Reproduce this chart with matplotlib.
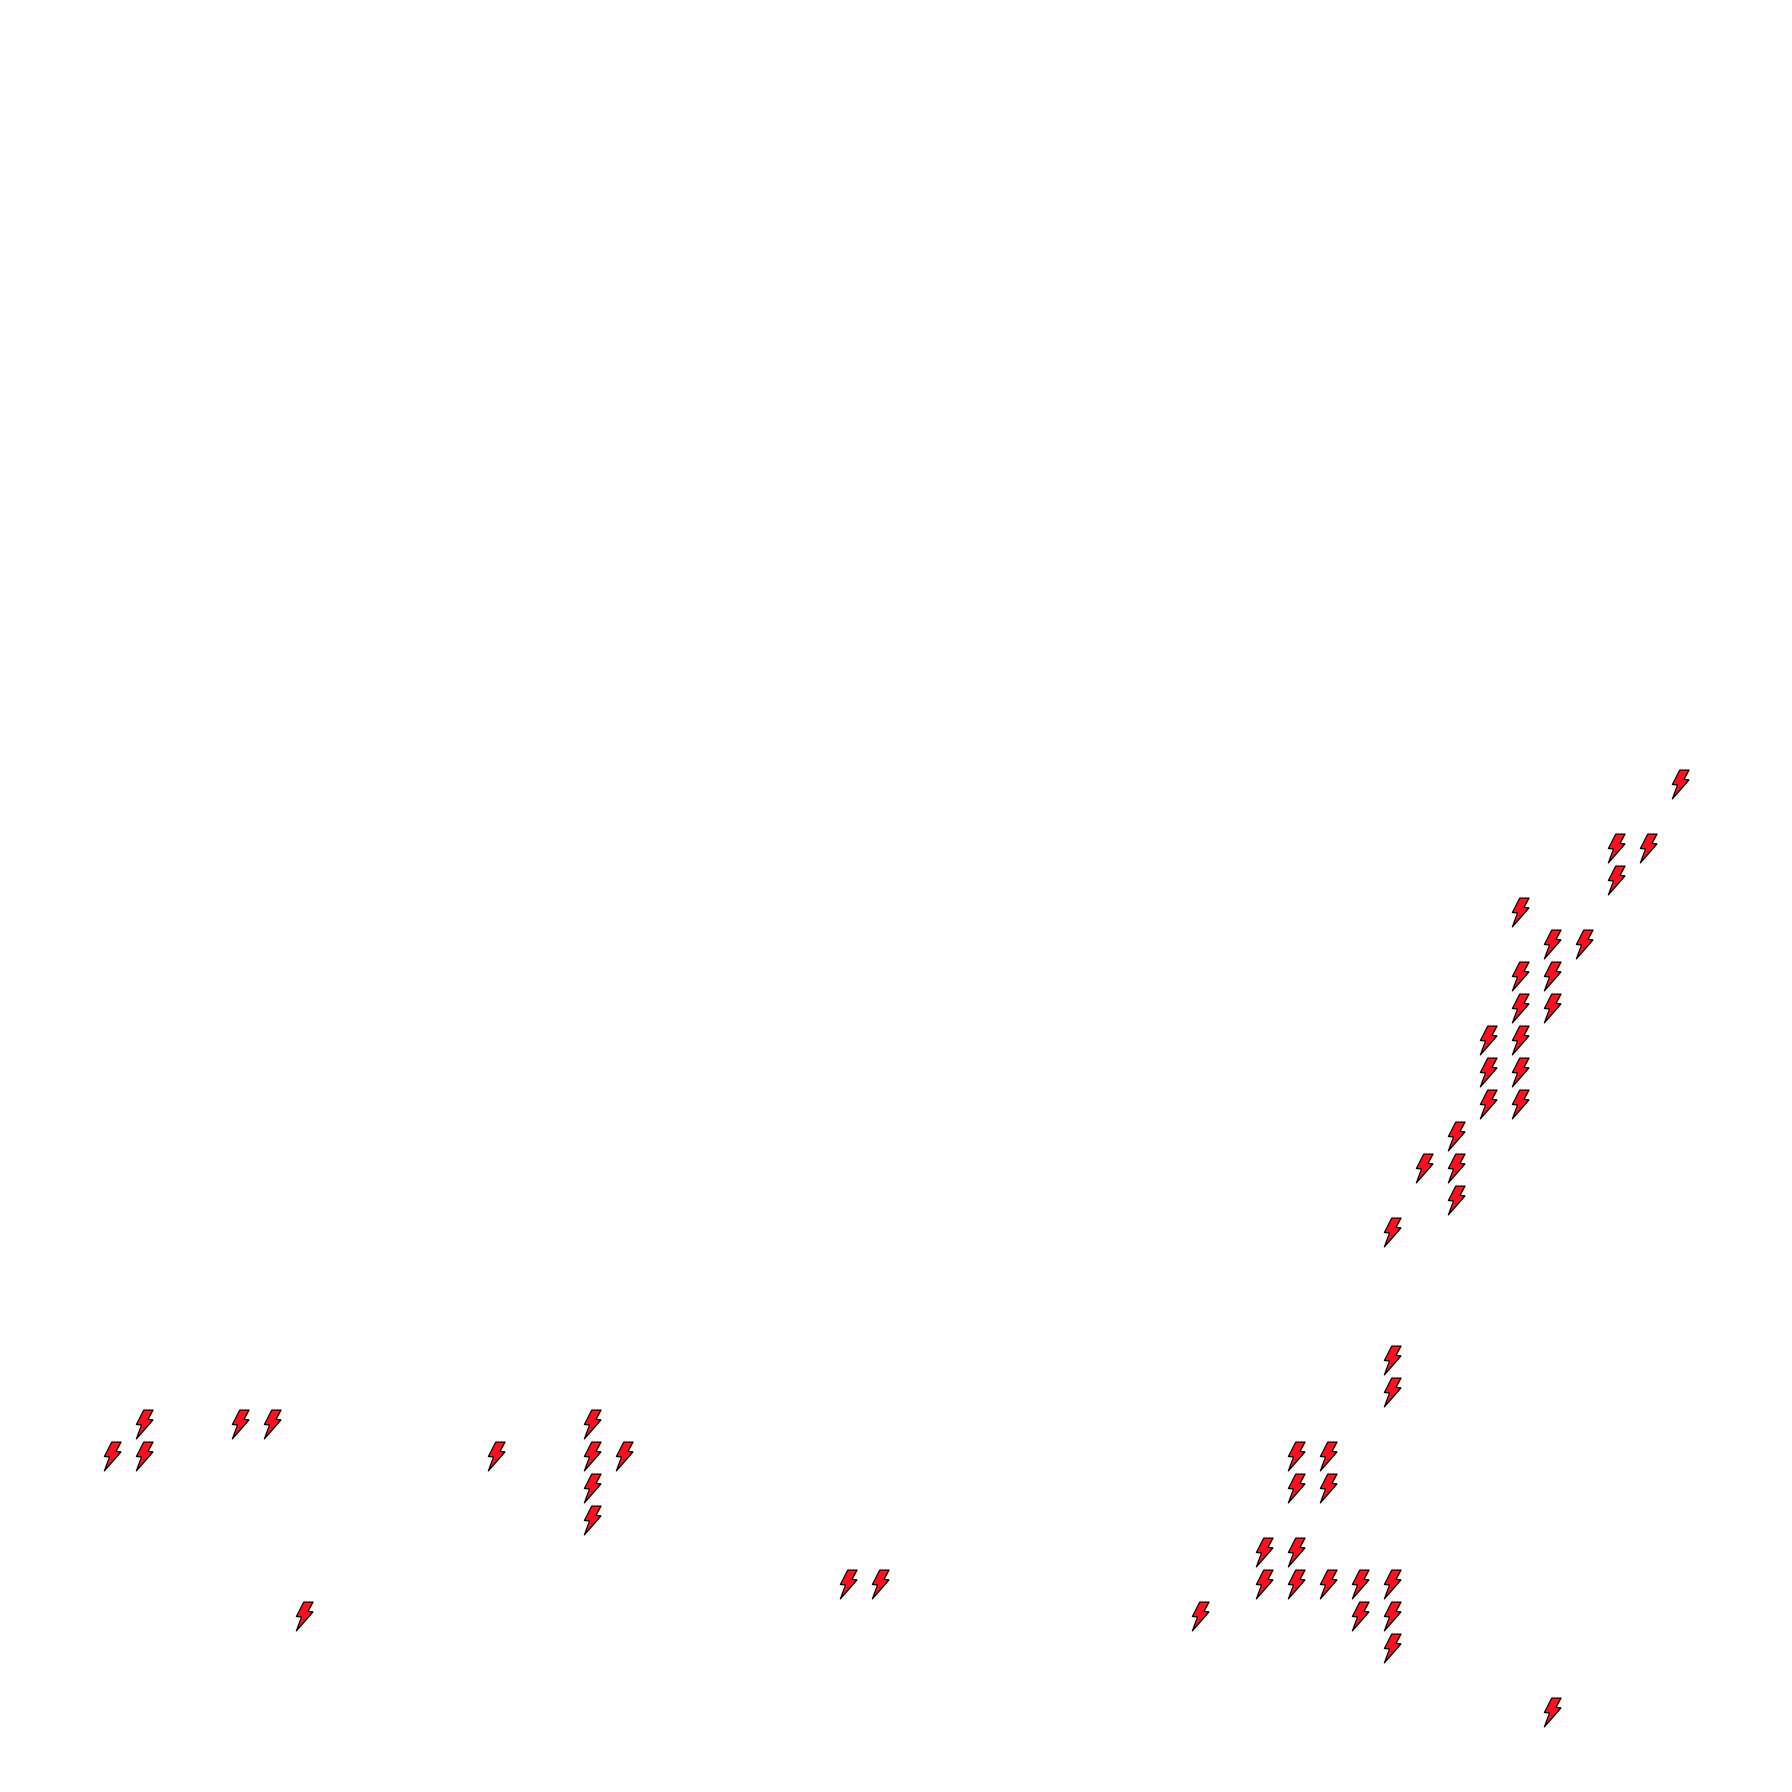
#!/usr/bin/env python3
"""Red lightning bolts on a bare integer grid."""
import matplotlib
matplotlib.use("Agg")
import matplotlib.pyplot as plt
from matplotlib.path import Path

# grid column / row (row 0 is the lowest bolt)
col = [49, 47, 48, 47, 44, 45, 46, 44, 45, 44, 45, 43, 44, 43, 44, 43, 44,
       42, 41, 42, 42, 40, 40, 40,
       1, 4, 5, 15,
       0, 1, 12, 15, 16, 37, 38,
       15, 37, 38, 15, 36, 37,
       23, 24, 36, 37, 38, 39, 40,
       6, 34, 39, 40, 40, 45]
row = [29, 27, 27, 26, 25, 24, 24, 23, 23, 22, 22, 21, 21, 20, 20, 19, 19,
       18, 17, 17, 16, 15, 11, 10,
       9, 9, 9, 9,
       8, 8, 8, 8, 8, 8, 8,
       7, 7, 7, 6, 5, 5,
       4, 4, 4, 4, 4, 4, 4,
       3, 3, 3, 3, 2, 0]

# bolt outline, y up
bolt = Path([(-0.7, 14.7), (8.7, 14.7), (3.5, 5.0), (8.7, 4.7), (-8.3, -14.7),
             (-3.0, -0.5), (-8.3, 0.0), (-0.7, 14.7)], closed=True)

fig = plt.figure(figsize=(17.92, 17.92), dpi=100)
ax = fig.add_axes([0, 0, 1, 1])
ax.scatter(col, row, marker=bolt, s=430, c="#ff1020", edgecolors="black",
           linewidths=0.9)
# nudged a fraction of a cell to sit on the reference pixels
ax.set_xlim(-3.49, 52.51)
ax.set_ylim(-2.51, 53.49)
ax.axis("off")

fig.savefig("out.png", dpi=100, facecolor="white")
